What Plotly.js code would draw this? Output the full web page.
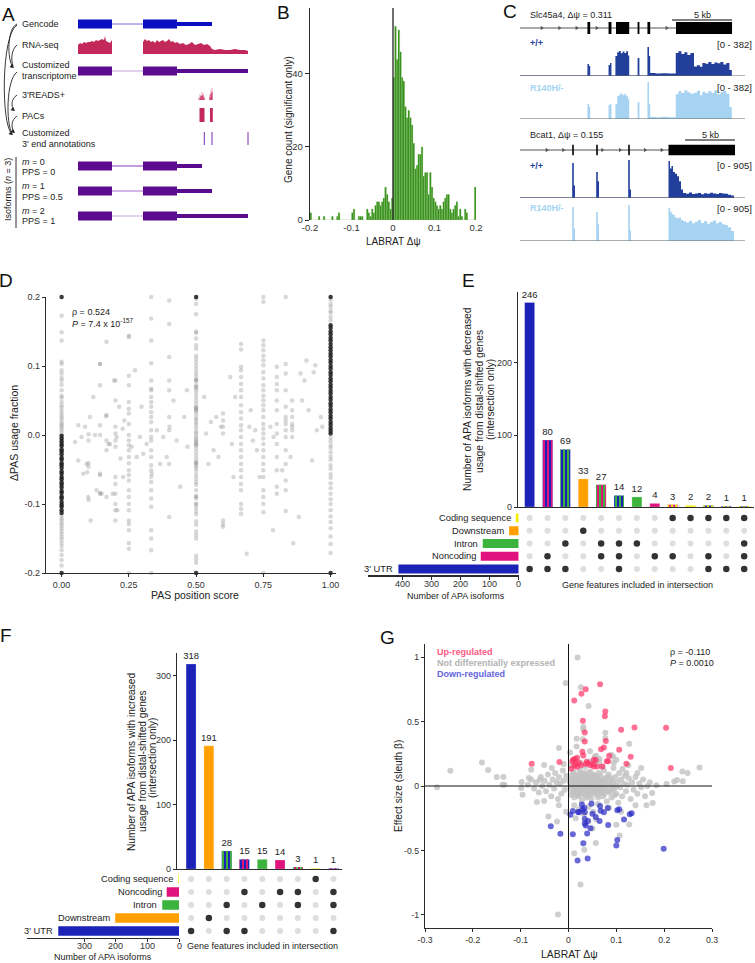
<!DOCTYPE html>
<html><head><meta charset="utf-8">
<script src="https://cdn.plot.ly/plotly-3.0.1.min.js"></script>
<style>body{margin:0;background:#fff}#plot{width:755px;height:963px}</style>
</head><body><div id="plot"></div>
<script>
// ================= DATA =================
// Panel A (schematic, genomic units)
const aExons = [[8,42],[73,107]];
const aGencodeEnd = 142, aTranscriptomeEnd = 178;
const aIsoformEnds = [132,142,178];
const rnaExon1X = [8,10,12,14,16,18,20,22,24,26,28,30,32,34,35,36,38,40,42];
const rnaExon1H = [9,11,10,12,11,12,12,13,12,14,13,14,15,14,18,13,12,11,14];
const rnaExon2X = [73,75,77,79,81,83,85,87,89,91,93,95,97,99,101,103,105,107,110,113,116,119,122,125,128,131,134,137,140,142,145,150,155,160,165,170,175,178];
const rnaExon2H = [12,15,13,14,12,13,11,14,12,13,14,12,13,15,12,13,11,12,10,11,9,10,12,9,10,11,9,10,8,5,4,5,4,4,5,4,4,3];
const reads3X = [129,130,131,132,133,134,140,141,142];
const reads3Light = [3,6,5,8,7,4,6,10,12];
const reads3Dark = [0,2,4,4,5,2,3,6,8];
const aPacs = [[129.5,134.5],[140,142.8]];
const aCustomEnds = [134.3,142,178];

// Panel B histogram (LABRAT delta psi, bins of 0.004 from -0.2)
const histStart = -0.2, histWidth = 0.004;
const histCounts = [2,0,0,0,0,1,0,0,1,0, 0,0,0,1,0,0,1,2,0,0, 0,0,0,0,0,2,3,0,0,1,
  1,1,0,0,3,2,1,3,2,4, 5,5,4,5,6,9,7,5,3,6, 39,53,44,52,46,39,38,31,28,30,
  28,26,21,14,15,18,18,20,12,13, 13,7,13,9,6,5,4,3,4,3, 5,6,7,7,3,2,3,4,5,1, 3,1,0,3,2,0,0,0,0,9];

// Panel C (kb)
const slcExons = [[5.62,5.85],[7.38,7.62],[8.0,9.1],[9.8,9.95],[10.62,10.85],[13.0,17.67]];
const slcChevrons = [1.81,3.28,4.72,6.39,12.22];
const slcPas = [14.75,17.58];
const slcCovX = [0,5.62,5.75,5.85,7.38,7.5,7.62,7.95,8.1,8.25,8.4,8.55,8.7,8.85,9.0,9.1,9.8,9.95,10.62,10.75,10.85,11.3,11.8,12.3,12.98,13.2,13.45,13.7,13.95,14.2,14.5,14.75,15.0,15.2,15.45,15.7,15.95,16.2,16.45,16.7,16.95,17.2,17.45,17.65];
const slcWT = [4,121,100,4,110,131,4,200,240,251,228,246,232,250,205,4,181,4,291,200,30,25,28,24,231,250,222,240,212,232,95,108,92,131,124,140,121,136,127,140,116,130,60,0];
const slcMut = [3,151,120,3,140,151,3,150,230,245,260,238,255,228,200,3,171,3,372,150,20,18,22,17,250,280,262,290,270,255,265,285,240,275,258,282,262,290,248,270,285,255,120,0];
const bcatExons = [[5.22,5.38],[7.62,7.78],[10.82,10.98],[14.85,21.5]];
const bcatChevrons = [2.67,4.33,8.23,10.0,12.5,14.17];
const bcatPas = [16.1,21.4];
const bcatCovX = [0,5.22,5.38,5.5,7.62,7.78,7.9,10.82,10.98,11.1,14.85,15.0,15.15,15.3,15.5,15.7,15.9,16.1,16.3,16.6,16.9,17.2,17.5,17.8,18.1,18.4,18.7,19.0,19.3,19.6,19.9,20.2,20.5,20.8,21.1,21.4];
const bcatWT = [10,833,300,10,619,400,10,905,200,10,880,700,760,619,580,520,400,200,120,100,130,95,110,120,90,115,100,125,105,95,120,110,100,80,60,0];
const bcatMut = [8,810,300,8,690,400,8,857,250,8,785,700,650,620,560,540,560,500,470,440,480,420,460,500,430,470,410,455,490,420,450,400,380,330,240,0];

// Panel D (PAS position score vs delta PAS usage)
const dColX = [0,0.1,0.143,0.167,0.2,0.25,0.333,0.4,0.5,0.6,0.667,0.75,0.8,0.833,0.857,1];
const dY0 = [0.173,0.149,0.137,0.106,0.103,0.094,0.089,0.083,0.079,0.073,0.065,0.057,0.054,0.048,0.043,0.040,0.035,0.031,0.027,0.024,0.020,0.016,0.014,0.011,0.008,0.004,-0.117,-0.121,-0.124,-0.128,-0.131,-0.135,-0.139,-0.143,-0.147,-0.151,-0.156,-0.161,-0.167,-0.174,-0.181,-0.189];
const dY10 = [0.001,-0.008,-0.041,-0.046,-0.094];
const dY143 = [0.103,0.072,0.014,0.0,-0.056,-0.084,-0.085];
const dY167 = [0.135,0.029,-0.008,-0.022,-0.09];
const dY20 = [0.079,0.05,0.012,0.002,-0.008,-0.017,-0.061,-0.071,-0.085,-0.1,-0.109,-0.124];
const dY25 = [0.144,0.142,0.086,0.072,0.048,0.038,0.031,0.016,0.0,-0.008,-0.015,-0.022,-0.032,-0.041,-0.051,-0.058,-0.066,-0.08,-0.09,-0.1,-0.109,-0.124,-0.129,-0.138,-0.157,-0.165,-0.2];
const dY333 = [0.2,0.169,0.137,0.104,0.079,0.067,0.065,0.055,0.048,0.041,0.033,0.026,0.019,0.007,-0.003,-0.008,-0.022,-0.032,-0.044,-0.051,-0.061,-0.068,-0.08,-0.092,-0.104,-0.138,-0.15,-0.167,-0.2];
const dY40 = [0.195,0.161,0.113,0.079,0.065,0.026,0.007,-0.042,-0.119];
const dY50 = [0.197,0.19,0.175,0.15,0.148,0.14,0.13,0.125,0.115,0.11,0.105,0.1,0.095,0.09,0.085,0.08,0.08,0.078,0.072,0.07,0.068,0.065,0.06,0.055,0.05,0.045,0.04,0.04,0.038,0.035,0.035,0.03,0.025,0.022,0.018,0.015,0.01,0.005,0.002,-0.002,-0.005,-0.008,-0.01,-0.012,-0.015,-0.015,-0.02,-0.025,-0.03,-0.035,-0.04,-0.04,-0.042,-0.045,-0.048,-0.052,-0.058,-0.063,-0.068,-0.072,-0.08,-0.088,-0.09,-0.092,-0.1,-0.1,-0.105,-0.11,-0.115,-0.125,-0.13,-0.14,-0.145,-0.15,-0.175,-0.18,-0.185];
const dY60 = [0.031,0.021,0.012,0.002,-0.124,-0.129,-0.133];
const dY667 = [0.132,0.124,0.099,0.094,0.084,0.074,0.065,0.055,0.043,0.033,0.024,0.014,0.007,-0.003,-0.013,-0.022,-0.032,-0.042,-0.051,-0.061,-0.071,-0.08,-0.1,-0.107,-0.114];
const dY75 = [0.2,0.193,0.137,0.13,0.123,0.115,0.108,0.101,0.091,0.082,0.072,0.065,0.057,0.05,0.043,0.036,0.026,0.016,0.009,0.002,-0.005,-0.013,-0.022,-0.032,-0.042,-0.051,-0.061,-0.08,-0.09,-0.1,-0.112,-0.2];
const dY80 = [0.099,0.084,0.074,0.065,0.05,0.036,0.016,0.002,-0.013,-0.032,-0.051,-0.075,-0.085];
const dY833 = [0.2,0.103,0.089,0.065,0.041,0.026,0.021,0.016,0.007,-0.003,-0.022,-0.042,-0.066,-0.08,-0.11];
const dY857 = [0.05,0.036,0.026,0.016,0.012,0.007,-0.003];
const dY100 = [0.196,0.19,0.186,0.18,0.177,0.171,0.166,-0.004,-0.009,-0.015,-0.019,-0.025,-0.031,-0.036,-0.044,-0.049,-0.057,-0.062,-0.07,-0.077,-0.085,-0.093,-0.1,-0.109,-0.118,-0.126,-0.135,-0.147,-0.158,-0.171];
const dDense0 = [0.2,-0.001,-0.005,-0.009,-0.013,-0.016,-0.021,-0.024,-0.028,-0.033,-0.036,-0.041,-0.044,-0.048,-0.053,-0.056,-0.061,-0.064,-0.069,-0.072,-0.076,-0.081,-0.084,-0.089,-0.092,-0.097,-0.101,-0.104,-0.109,-0.113,-0.2];
const dDense50 = [0.2,-0.2];
const dDense100 = [0.2,0.159,0.155,0.15,0.146,0.141,0.137,0.132,0.127,0.123,0.118,0.114,0.109,0.105,0.1,0.096,0.091,0.087,0.082,0.078,0.073,0.069,0.064,0.06,0.055,0.051,0.046,0.042,0.037,0.033,0.028,0.024,0.019,0.015,0.01,0.006,0.002,-0.2];
const dScatX = [0.05,0.062,0.062,0.074,0.08,0.087,0.093,0.095,0.099,0.105,0.108,0.118,0.124,0.13,0.143,0.143,0.149,0.165,0.174,0.18,0.19,0.195,0.205,0.207,0.214,0.219,0.227,0.229,0.233,0.26,0.273,0.279,0.291,0.297,0.304,0.316,0.335,0.354,0.366,0.378,0.391,0.401,0.416,0.428,0.441,0.456,0.466,0.468,0.53,0.537,0.546,0.555,0.565,0.575,0.583,0.592,0.627,0.633,0.639,0.645,0.698,0.703,0.711,0.72,0.726,0.736,0.786,0.776,0.788,0.82,0.851,0.861,0.882,0.888,0.894,0.903,0.91,0.918,0.931,0.937,0.943,0.949,0.964,0.969,0.688];
const dScatY = [-0.01,0.014,-0.037,-0.003,-0.056,0.012,-0.042,-0.054,-0.09,0.026,-0.124,0.055,0,-0.08,0.103,-0.058,-0.085,0.027,-0.013,-0.013,-0.085,0.079,-0.003,-0.109,0.041,-0.034,0.009,-0.061,0.021,-0.017,0.094,-0.032,-0.003,0.041,-0.027,-0.013,-0.056,0.007,-0.042,-0.003,-0.032,0.012,0.05,-0.008,-0.075,0.026,0.065,-0.017,0.055,0.002,-0.042,0.019,-0.022,0.026,-0.032,0.012,0.084,-0.013,-0.061,0.055,0.012,0.036,-0.008,0.007,-0.022,-0.061,-0.138,0.012,-0.003,-0.051,-0.032,-0.157,-0.119,0.089,0.05,0.079,0.108,0.036,-0.037,0.091,0.101,0.007,0.026,0.012,-0.172];

// Panel E (decreased usage)
const eLabels = [246,80,69,33,27,14,12,4,3,2,2,1,1];
const eBarHeights = [284,93,80,39,31,16,14,5,3.3,2.3,2.3,1.2,1.2];
const eSets = [["3' UTR"],["Noncoding","3' UTR"],["Intron","3' UTR"],["Downstream"],["Intron","Noncoding"],["Intron","Noncoding","3' UTR"],["Intron"],["Noncoding"],["Coding sequence","Noncoding"],["Coding sequence"],["Coding sequence","Noncoding","3' UTR"],["Coding sequence","3' UTR"],["Coding sequence","Intron","Noncoding","3' UTR"]];
const eRows = ["3' UTR","Noncoding","Intron","Downstream","Coding sequence"];
const eSetSize = [415,131,124,33,10];
const eSizeTicks = [400,300,200,100,0];

// Panel F (increased usage)
const fLabels = [318,191,28,15,15,14,3,1,1];
const fBarHeights = [318,191,28,15,15,14,3,1,1];
const fSets = [["3' UTR"],["Downstream"],["Intron","3' UTR"],["Noncoding","3' UTR"],["Intron"],["Noncoding"],["Noncoding","Intron"],["Coding sequence"],["Noncoding","Intron","3' UTR"]];
const fRows = ["3' UTR","Downstream","Intron","Noncoding","Coding sequence"];
const fSetSize = [382,202,53,39,2];
const fSizeTicks = [300,200,100,0];

// Panel G (LABRAT dpsi vs sleuth beta)
const gUp = [[-0.077,0.173],[-0.019,0.186],[0.012,0.662],[0.027,0.716],[0.036,0.75],[0.066,0.789],[0.077,0.577],[0.076,0.541],[0.03,0.505],[0.034,0.415],[0.034,0.345],[0.11,0.436],[0.138,0.454],[0.204,0.451],[0.214,0.139],[0.078,0.348],[0.074,0.299],[0.068,0.284],[0.106,0.281],[0.029,0.265],[0.085,0.235],[0.13,0.227],[0.121,0.173],[0.08,0.191],[0.083,0.191],[0.008,0.191],[0.01,0.204],[0.013,0.209],[0.018,0.219],[0.015,0.173],[0.012,0.157],[0.006,0.134],[0.022,0.178],[0.038,0.188],[0.031,0.237],[0.041,0.178],[0.053,0.204],[0.057,0.201],[0.036,0.17],[0.046,0.16],[0.053,0.152],[0.06,0.152],[0.071,0.152],[0.051,0.17],[0.026,0.16],[0.018,0.15]];
const gDown = [[-0.037,-0.312],[-0.017,-0.371],[0.004,-0.222],[0.009,-0.193],[0.009,-0.374],[0.02,-0.201],[0.022,-0.204],[0.028,-0.144],[0.029,-0.183],[0.033,-0.17],[0.034,-0.204],[0.034,-0.255],[0.034,-0.291],[0.036,-0.307],[0.041,-0.271],[0.046,-0.327],[0.039,-0.368],[0.031,-0.443],[0.019,-0.577],[0.04,-0.562],[0.048,-0.137],[0.05,-0.216],[0.057,-0.24],[0.065,-0.271],[0.066,-0.155],[0.067,-0.191],[0.074,-0.204],[0.082,-0.17],[0.083,-0.302],[0.102,-0.188],[0.106,-0.18],[0.116,-0.26],[0.128,-0.219],[0.132,-0.211],[0.102,-0.418],[0.1,-0.461],[0.199,-0.487]];
const gNot = [[0.019,0.997],[-0.006,0.799],[0.026,0.765],[0.042,0.621],[0.031,0.459],[0.031,0.438],[0.077,0.412],[0.077,0.371],[0.127,0.327],[-0.02,0.294],[0.017,0.307],[-0.181,0.183],[-0.247,0.119],[-0.168,0.124],[-0.275,-0.01],[0.274,0.144],[0.238,0.113],[0.249,0.1],[0.221,0.034],[0.227,0.046],[0.175,-0.054],[0.176,-0.131],[0.163,-0.149],[0.127,-0.299],[0.107,-0.384],[0.057,-0.441],[0.033,-0.495],[0.012,-0.521],[0.025,-0.763],[-0.022,-0.997],[-0.042,-0.237],[-0.024,-0.276],[-0.066,-0.124],[-0.051,-0.116],[-0.096,-0.067],[-0.099,-0.015],[-0.098,0.031],[-0.134,0.01],[-0.138,0.01],[-0.15,0.07],[-0.136,0.07],[-0.078,0.126],[-0.051,0.162],[-0.083,0.062],[-0.06,0.049],[0.239,0.037],[0.205,0.015],[0.184,0.005],[0.152,0.139],[0.144,0.1],[0.121,0.1],[0.113,0.131],[0.1,0.204],[0.093,0.229],[0.058,0.235],[0.055,0.229],[0.064,0.186],[0.017,0.366],[0.03,0.363],
 [0.002,0.05],[0.004,-0.02],[0.005,0.08],[0.006,-0.07],[0.008,0.02],[0.009,-0.04],[0.010,0.11],[0.011,0.0],[0.012,-0.09],[0.013,0.06],[0.014,-0.01],[0.015,0.03],[0.016,-0.06],[0.017,0.09],[0.018,-0.03],[0.019,0.01],[0.02,0.05],[0.021,-0.08],[0.022,0.07],[0.023,-0.02],[0.024,0.12],[0.025,0.0],[0.026,-0.05],[0.027,0.04],[0.028,-0.11],[0.029,0.02],[0.03,0.08],[0.031,-0.03],[0.032,0.06],[0.033,-0.07],[0.034,0.01],[0.035,0.1],[0.036,-0.01],[0.037,0.04],[0.038,-0.09],[0.039,0.03],[0.04,-0.04],[0.041,0.07],[0.042,0.0],[0.043,-0.06],[0.044,0.05],[0.045,0.11],[0.046,-0.02],[0.047,0.02],[0.048,-0.1],[0.049,0.06],[0.05,-0.03],[0.052,0.09],[0.053,0.01],[0.054,-0.05],[0.055,0.04],[0.057,-0.01],[0.058,0.07],[0.06,-0.07],[0.061,0.02],[0.063,0.1],[0.064,-0.04],[0.066,0.05],[0.068,-0.02],[0.07,0.03],
 [0.003,0.03],[0.006,0.0],[0.007,0.06],[0.009,-0.05],[0.011,0.09],[0.013,-0.02],[0.014,0.04],[0.016,0.07],[0.018,0.0],[0.019,-0.07],[0.021,0.03],[0.022,-0.04],[0.024,0.08],[0.025,0.05],[0.026,-0.01],[0.027,0.1],[0.028,0.02],[0.029,-0.06],[0.031,0.05],[0.032,-0.02],[0.033,0.09],[0.034,0.0],[0.036,0.06],[0.037,-0.05],[0.038,0.02],[0.039,0.08],[0.041,-0.01],[0.042,0.04],[0.043,-0.08],[0.044,0.1],[0.046,0.03],[0.047,-0.05],[0.048,0.07],[0.05,0.0],[0.051,0.05],[0.052,-0.06],[0.054,0.08],[0.055,-0.02],[0.056,0.03],[0.058,-0.04],[0.059,0.06],[0.061,0.0],[0.062,-0.09],[0.064,0.04],[0.065,-0.01],[0.067,0.08],[0.069,-0.05],[0.071,0.01],[0.073,0.05],[0.075,-0.06],[0.077,0.03],[0.079,-0.02],[0.081,0.07],[0.083,-0.04],[0.087,0.01],[0.089,0.06],[0.091,-0.03],[0.093,0.03],[0.097,-0.07],[0.099,0.0],
 [-0.005,0.08],[-0.008,-0.03],[-0.01,0.04],[-0.012,0.12],[-0.015,-0.06],[-0.018,0.02],[-0.02,0.07],[-0.022,-0.1],[-0.025,0.03],[-0.028,0.1],[-0.03,-0.02],[-0.033,0.05],[-0.036,-0.08],[-0.04,0.01],[-0.043,0.09],[-0.047,-0.04],[-0.05,0.04],[-0.055,0.0],[-0.058,0.07],[-0.062,-0.05],[-0.068,0.03],[-0.072,-0.02],[-0.078,0.05],[-0.085,0.01],
 [0.072,-0.08],[0.074,0.12],[0.076,-0.03],[0.078,0.06],[0.08,-0.12],[0.082,0.02],[0.084,0.09],[0.086,-0.05],[0.088,0.04],[0.09,-0.09],[0.092,0.0],[0.094,0.14],[0.096,-0.02],[0.098,0.07],[0.1,-0.06],[0.102,0.03],[0.104,-0.13],[0.106,0.1],[0.108,-0.01],[0.11,0.05],[0.112,-0.08],[0.115,0.02],[0.118,0.08],[0.12,-0.04],[0.123,0.01],[0.126,0.06],[0.13,-0.1],[0.133,0.03],[0.136,-0.03],[0.14,0.07],[0.144,-0.06],[0.148,0.02],[0.152,-0.01],[0.156,0.05],[0.16,-0.08],[0.165,0.0],[0.17,0.03],
 [0.005,0.16],[0.015,0.2],[0.025,0.18],[0.035,0.15],[0.045,0.19],[0.055,0.17],[0.065,0.21],[0.012,-0.15],[0.022,-0.18],[0.032,-0.22],[0.042,-0.16],[0.052,-0.2],[0.062,-0.14],[0.015,-0.25],[0.058,-0.26],[-0.01,0.17],[-0.02,-0.15],[-0.035,0.14],[0.07,0.15],[0.085,-0.17],[0.095,0.18],[0.11,-0.2],[0.125,0.16],[0.14,-0.15],[0.003,0.26],[0.045,0.27],[0.09,0.24],[-0.005,-0.2],[0.1,-0.3],[0.05,-0.33]];

// ================= STYLE / LAYOUT HELPERS =================
const W=755,H=963;
const FONT='Arial, "Liberation Sans", Helvetica, sans-serif';
const TXT='#222';
const X=p=>p/W, Y=p=>1-p/H;
const dX=(a,b)=>[X(a),X(b)], dY=(top,bot)=>[Y(bot),Y(top)];
const featColor={"3' UTR":'#1b22b8',"Noncoding":'#e0137e',"Intron":'#3cb33c',"Downstream":'#ffa000',"Coding sequence":'#f4ee00'};
const traces=[], shapes=[], annotations=[];

function txt(x,y,text,o={}){annotations.push({xref:'paper',yref:'paper',x:X(x),y:Y(y),text,showarrow:false,
  xanchor:o.anchor||'left',yanchor:'middle',textangle:o.angle||0,font:{family:FONT,size:o.size||9,color:o.color||TXT}});}
function rect(xref,yref,x0,x1,y0,y1,color){shapes.push({type:'rect',xref,yref,x0,x1,y0,y1,fillcolor:color,line:{width:0},layer:'above'});}
function seg(xref,yref,x0,y0,x1,y1,color,w){shapes.push({type:'line',xref,yref,x0,y0,x1,y1,line:{color,width:w||1},layer:'above'});}
function pathPx(str,color){shapes.push({type:'path',xref:'paper',yref:'paper',
  path:str.replace(/(-?\d+\.?\d*),(-?\d+\.?\d*)/g,(m,a,b)=>X(+a).toFixed(5)+','+Y(+b).toFixed(5)),line:{color,width:0.9}});}
function arrowHead(x,y,ax,ay){annotations.push({xref:'paper',yref:'paper',x:X(x),y:Y(y),ax,ay,text:'',showarrow:true,arrowhead:2,arrowsize:0.9,arrowwidth:0.9,arrowcolor:'#222'});}
function hid(domain,range,anchor){return {domain,range,anchor,showgrid:false,zeroline:false,showline:false,ticks:'',showticklabels:false,fixedrange:true};}
function vis(domain,range,anchor,fs,extra){return Object.assign(hid(domain,range,anchor),{showline:true,linecolor:'#2b2b2b',linewidth:1.2,
  ticks:'outside',ticklen:3,tickwidth:1,tickcolor:'#2b2b2b',showticklabels:true,tickfont:{family:FONT,size:fs,color:'#333'}},extra||{});}

// ================= PANEL A =================
function geneA(yc,end,ec,ic){
  rect('x','y',aExons[0][0],aExons[0][1],yc-4.5,yc+4.5,ec);
  seg('x','y',aExons[0][1],yc,aExons[1][0],yc,ic,1);
  rect('x','y',aExons[1][0],aExons[1][1],yc-4.5,yc+4.5,ec);
  rect('x','y',aExons[1][1],end,yc-2,yc+2,ec);
}
geneA(24,aGencodeEnd,'#0b0fc2','#7070dc');
geneA(71,aTranscriptomeEnd,'#5b0b8e','#c7a3e0');
const isoIntron=['#8c3cc0','#a86cd0','#c9a8e2'];
aIsoformEnds.forEach((e,i)=>geneA(166+25*i,e,'#5b0b8e',isoIntron[i]));
function areaA(xs,hs,base,color){
  traces.push({type:'scatter',mode:'lines',x:[xs[0],...xs,xs[xs.length-1]],y:[base,...hs.map(h=>base-h),base],
    fill:'toself',fillcolor:color,line:{width:0,color},xaxis:'x',yaxis:'y',hoverinfo:'skip'});
}
areaA(rnaExon1X,rnaExon1H,54,'#c3285b');
areaA(rnaExon2X,rnaExon2H,54,'#c3285b');
traces.push({type:'bar',x:reads3X,y:reads3Light.map(h=>-h),base:100,width:1,marker:{color:'#e9a3bb'},xaxis:'x',yaxis:'y',hoverinfo:'skip'});
traces.push({type:'bar',x:reads3X,y:reads3Dark.map(h=>-h),base:100,width:1,marker:{color:'#c3285b'},xaxis:'x',yaxis:'y',hoverinfo:'skip'});
aPacs.forEach(p=>rect('x','y',p[0],p[1],108,122,'#c3285b'));
aCustomEnds.forEach(c=>seg('x','y',c,132,c,145,'#7b2ab5',1));
txt(20,24,'Gencode'); txt(20,45,'RNA-seq'); txt(20,65,'Customized'); txt(20,76,'transcriptome');
txt(20,95,"3'READS+"); txt(20,116,'PACs'); txt(20,133,'Customized'); txt(20,144,"3' end annotations");
txt(20,162,'<i>m</i> = 0'); txt(20,172,'PPS = 0'); txt(20,186,'<i>m</i> = 1'); txt(20,197,'PPS = 0.5');
txt(20,211,'<i>m</i> = 2'); txt(20,221,'PPS = 1');
txt(8,190,'Isoforms (<i>n</i> = 3)',{angle:-90,anchor:'center'});
shapes.push({type:'line',xref:'paper',yref:'paper',x0:X(16),x1:X(16),y0:Y(157),y1:Y(228),line:{color:'#333',width:1}});
pathPx('M17,24 C7,28 7,60 13,67','#222');
pathPx('M17,25 C1,35 1,125 12,134','#222');
pathPx('M17,45 C11,50 11,60 13,66','#222');
pathPx('M17,72 C6,80 6,124 12,133','#222');
pathPx('M17,95 C11,99 11,106 14,110','#222');
pathPx('M17,116 C11,120 11,127 14,132','#222');
[[14,68],[13,135],[15,111],[15,133]].forEach(p=>arrowHead(p[0],p[1],-4,-3));

// ================= PANEL B =================
const histCenters = histCounts.map((_,i)=>histStart+histWidth*(i+0.5));
traces.push({type:'bar',x:histCenters,y:histCounts,width:histWidth,marker:{color:'#2e8a12',line:{color:'#9dd183',width:0.3}},xaxis:'x2',yaxis:'y2',hoverinfo:'skip'});
seg('x2','y2',0,0,0,58,'#333',1.4);
txt(288,120,'Gene count (significant only)',{angle:-90,anchor:'center',size:10});
txt(393,241,'LABRAT Δψ',{anchor:'center',size:10});

// ================= PANEL C =================
const cov=(xa,ya,xs,ys,color)=>traces.push({type:'scatter',mode:'lines',x:xs,y:ys,line:{shape:'hv',width:0,color},fill:'tozeroy',fillcolor:color,xaxis:xa,yaxis:ya,hoverinfo:'skip'});
function geneC(xa,ya,exons,chev,h){
  seg(xa,ya,0,0,exons[exons.length-1][1],0,'#555',1);
  exons.forEach(e=>rect(xa,ya,e[0],e[1],-h,h,'#000'));
  traces.push({type:'scatter',mode:'markers',x:chev,y:chev.map(()=>0),marker:{symbol:'triangle-right',size:4,color:'#555'},xaxis:xa,yaxis:ya,hoverinfo:'skip'});
}
geneC('x3','y3',slcExons,slcChevrons,0.75);
geneC('x4','y6',bcatExons,bcatChevrons,0.65);
const WT='#223f9c', MUT='#a6d3f2';
cov('x3','y4',slcCovX,slcWT,WT); cov('x3','y5',slcCovX,slcMut,MUT);
cov('x4','y7',bcatCovX,bcatWT,WT); cov('x4','y8',bcatCovX,bcatMut,MUT);
[['x3','y4',382,slcPas],['x3','y5',382,slcPas],['x4','y7',905,bcatPas],['x4','y8',905,bcatPas]].forEach(t=>{
  shapes.push({type:'line',xref:t[0]+' domain',yref:t[1],x0:0,x1:1,y0:0,y1:0,line:{color:'#666',width:1}});
  traces.push({type:'scatter',mode:'markers',x:t[3],y:t[3].map(()=>-t[2]*0.11),cliponaxis:false,marker:{symbol:'triangle-up',size:5,color:'#000'},xaxis:t[0],yaxis:t[1],hoverinfo:'skip'});
});
shapes.push({type:'line',xref:'x3',yref:'paper',x0:12.67,x1:17.67,y0:Y(20),y1:Y(20),line:{color:'#000',width:1}});
shapes.push({type:'line',xref:'x4',yref:'paper',x0:16.5,x1:21.5,y0:Y(140),y1:Y(140),line:{color:'#000',width:1}});
annotations.push({xref:'x3',yref:'paper',x:15.17,y:Y(14.5),xanchor:'center',yanchor:'middle',text:'5 kb',showarrow:false,font:{family:FONT,size:9,color:TXT}});
annotations.push({xref:'x4',yref:'paper',x:19,y:Y(134.5),xanchor:'center',yanchor:'middle',text:'5 kb',showarrow:false,font:{family:FONT,size:9,color:TXT}});
txt(528,15,'Slc45a4, Δψ = 0.311'); txt(528,135,'Bcat1, Δψ = 0.155');
txt(528,43,'<b>+/+</b>',{color:WT}); txt(528,88,'<b>R140H/-</b>',{color:MUT});
txt(528,166,'<b>+/+</b>',{color:WT}); txt(528,208,'<b>R140H/-</b>',{color:MUT});
txt(754,44,'[0 - 382]',{anchor:'right',size:9.5}); txt(754,88,'[0 - 382]',{anchor:'right',size:9.5});
txt(754,166,'[0 - 905]',{anchor:'right',size:9.5}); txt(754,208,'[0 - 905]',{anchor:'right',size:9.5});

// ================= PANEL D =================
const dCols=[dY0,dY10,dY143,dY167,dY20,dY25,dY333,dY40,dY50,dY60,dY667,dY75,dY80,dY833,dY857,dY100];
const dLx=[], dLy=[];
dCols.forEach((ys,i)=>ys.forEach(y=>{dLx.push(dColX[i]);dLy.push(y);}));
dScatX.forEach((x,i)=>{dLx.push(x);dLy.push(dScatY[i]);});
traces.push({type:'scatter',mode:'markers',x:dLx,y:dLy,cliponaxis:false,marker:{size:4.5,color:'#8a8a8a',opacity:0.33},xaxis:'x5',yaxis:'y9',hoverinfo:'skip'});
const dDx=[...dDense0.map(()=>0),...dDense50.map(()=>0.5),...dDense100.map(()=>1)];
const dDy=[...dDense0,...dDense50,...dDense100];
traces.push({type:'scatter',mode:'markers',x:dDx,y:dDy,cliponaxis:false,marker:{size:4.5,color:'#1a1a1a',opacity:0.85},xaxis:'x5',yaxis:'y9',hoverinfo:'skip'});
txt(70,312,'ρ = 0.524'); txt(70,323,'<i>P</i> = 7.4 x 10<sup>-157</sup>');
txt(14,433,'ΔPAS usage fraction',{angle:-90,anchor:'center',size:10.5});
txt(195,595,'PAS position score',{anchor:'center',size:10.5});

// ================= PANELS E, F (UpSet) =================
function upsetBars(h,labels,sets,xa,ya){
  const idx=h.map((_,i)=>i);
  const bg=sets.map(s=>featColor[s[s.length-1]]);
  traces.push({type:'bar',x:idx,y:h,text:labels.map(String),textposition:'outside',constraintext:'none',cliponaxis:false,
    textfont:{family:FONT,size:9.5,color:'#222'},width:0.56,marker:{color:bg,line:{color:'rgba(255,255,255,0.5)',width:0.5}},
    xaxis:xa,yaxis:ya,hoverinfo:'skip'});
  const fgs=[...new Set(sets.filter(s=>s.length>1).map(s=>s[0]))];
  fgs.forEach(f=>{
    const ids=idx.filter(i=>sets[i].length>1&&sets[i][0]===f);
    traces.push({type:'bar',x:ids,y:ids.map(i=>h[i]),width:0.56,cliponaxis:false,
      marker:{color:featColor[f],line:{width:0},pattern:{shape:'|',size:4,solidity:0.5}},xaxis:xa,yaxis:ya,hoverinfo:'skip'});
  });
}
function upsetMatrix(sets,rows,xa,ya){
  const ix=[],iy=[],ax=[],ay=[];
  sets.forEach((s,i)=>rows.forEach((r,j)=>{if(s.includes(r)){ax.push(i);ay.push(j);}else{ix.push(i);iy.push(j);}}));
  traces.push({type:'scatter',mode:'markers',x:ix,y:iy,marker:{size:6,color:'#dedede'},xaxis:xa,yaxis:ya,hoverinfo:'skip'});
  traces.push({type:'scatter',mode:'markers',x:ax,y:ay,marker:{size:6.5,color:'#333'},xaxis:xa,yaxis:ya,hoverinfo:'skip'});
}
function setBars(sizes,rows,xa,ya,ticks,tickY){
  traces.push({type:'bar',orientation:'h',x:sizes,y:rows.map((_,j)=>j),width:0.72,marker:{color:rows.map(r=>featColor[r])},xaxis:xa,yaxis:ya,hoverinfo:'skip'});
  rows.forEach((r,j)=>annotations.push({xref:xa,yref:ya,x:sizes[j],y:j,xanchor:'right',yanchor:'middle',xshift:-3,text:r,showarrow:false,font:{family:FONT,size:9.3,color:TXT}}));
  ticks.forEach(v=>annotations.push({xref:xa,yref:'paper',x:v,y:Y(tickY),xanchor:'center',yanchor:'middle',text:String(v),showarrow:false,font:{family:FONT,size:9,color:'#333'}}));
}
upsetBars(eBarHeights,eLabels,eSets,'x6','y10'); upsetMatrix(eSets,eRows,'x6','y11'); setBars(eSetSize,eRows,'x7','y11',eSizeTicks,584);
upsetBars(fBarHeights,fLabels,fSets,'x8','y12'); upsetMatrix(fSets,fRows,'x8','y13'); setBars(fSetSize,fRows,'x9','y13',fSizeTicks,946);
txt(468,399,'Number of APA isoforms with decreased',{angle:-90,anchor:'center',size:10.3});
txt(479,402,'usage from distal-shifted genes',{angle:-90,anchor:'center',size:10.3});
txt(490,400,'(intersection only)',{angle:-90,anchor:'center',size:10.3});
txt(456,596,'Number of APA isoforms',{anchor:'center'});
txt(637,585,'Gene features included in intersection',{anchor:'center'});
txt(131,762,'Number of APA isoforms with increased',{angle:-90,anchor:'center',size:10.2});
txt(142,761,'usage from distal-shifted genes',{angle:-90,anchor:'center',size:10.2});
txt(152,758,'(intersection only)',{angle:-90,anchor:'center',size:10.2});
txt(103,957,'Number of APA isoforms',{anchor:'center'});
txt(262,946,'Gene features included in intersection',{anchor:'center'});

// ================= PANEL G =================
[[gNot,'#c2c2c2',0.8],[gUp,'#ff3366',0.7],[gDown,'#2a2ac4',0.7]].forEach(g=>traces.push({type:'scatter',mode:'markers',
  x:g[0].map(p=>p[0]),y:g[0].map(p=>p[1]),marker:{size:6,color:g[1],opacity:g[2]},xaxis:'x10',yaxis:'y14',hoverinfo:'skip'}));
seg('x10','y14',-0.3,0,0.3,0,'#111',1); seg('x10','y14',0,-1.101,0,1.101,'#111',1);
txt(435,652,'<b>Up-regulated</b>',{color:'#ff5a85'});
txt(435,663,'<b>Not differentially expressed</b>',{color:'#b3b3b3'});
txt(435,674,'<b>Down-regulated</b>',{color:'#6464de'});
txt(668,652,'ρ = -0.110'); txt(668,663,'<i>P</i> = 0.0010');
txt(398,786,'Effect size (sleuth β)',{angle:-90,anchor:'center',size:10.2});
txt(569,954,'LABRAT Δψ',{anchor:'center',size:10.4});

// panel letters
[['A',8,14],['B',283,13],['C',510,11],['D',6,280],['E',468,280],['F',6,635],['G',387,637]].forEach(l=>txt(l[1],l[2],l[0],{anchor:'center',size:19,color:'#111'}));

// ================= LAYOUT =================
const xb2=hid(dX(310,476),[-0.2,0.2],'y2');
Object.assign(xb2,{showticklabels:true,tickvals:[-0.2,-0.1,0,0.1,0.2],ticktext:['-0.2','-0.1','0','0.1','0.2'],tickfont:{family:FONT,size:9.5,color:'#333'}});
const layout={width:W,height:H,margin:{l:0,r:0,t:0,b:0},paper_bgcolor:'#fff',plot_bgcolor:'rgba(0,0,0,0)',showlegend:false,barmode:'overlay',
  font:{family:FONT,size:9,color:TXT},shapes,annotations,
  xaxis:hid(dX(70,250),[0,180],'y'), yaxis:hid(dY(10,230),[230,10],'x'),
  xaxis2:xb2,
  yaxis2:vis(dY(8,220),[0,58],'x2',9.5,{tickvals:[0,20,40],ticklen:4}),
  xaxis3:hid(dX(520,745),[0,18.75],'y3'), yaxis3:hid(dY(20,36),[-1,1],'x3'),
  yaxis4:hid(dY(38,76),[0,382],'x3'), yaxis5:hid(dY(81,119),[0,382],'x3'),
  xaxis4:hid(dX(520,745),[0,22.5],'y6'), yaxis6:hid(dY(142,158),[-1,1],'x4'),
  yaxis7:hid(dY(160,198),[0,905],'x4'), yaxis8:hid(dY(203,241),[0,905],'x4'),
  xaxis5:vis(dX(46,336),[-0.058,1.02],'y9',9,{tickvals:[0,0.25,0.5,0.75,1],ticktext:['0.00','0.25','0.50','0.75','1.00']}),
  yaxis9:vis(dY(297,573),[-0.2,0.2],'x5',9,{tickvals:[-0.2,-0.1,0,0.1,0.2],ticktext:['-0.2','-0.1','0.0','0.1','0.2']}),
  xaxis6:Object.assign(hid(dX(518,754),[-0.65,12.55],'y10'),{showline:true,linecolor:'#2b2b2b',linewidth:1.2}),
  yaxis10:vis(dY(292,507),[0,298.6],'x6',9,{tickvals:[0,100,200]}),
  yaxis11:hid(dY(511.6,575.4),[-0.5,4.5],'x6'),
  xaxis7:vis(dX(368,518.7),[520,0],'y11',9,{tickvals:eSizeTicks,showticklabels:false}),
  xaxis8:Object.assign(hid(dX(177,342),[-0.79,8.48],'y12'),{showline:true,linecolor:'#2b2b2b',linewidth:1.2}),
  yaxis12:vis(dY(653,869),[0,335],'x8',9,{tickvals:[0,100,200,300]}),
  yaxis13:hid(dY(872.5,937.5),[-0.5,4.5],'x8'),
  xaxis9:vis(dX(27,179),[481,0],'y13',9,{tickvals:fSizeTicks,showticklabels:false}),
  xaxis10:vis(dX(425,712),[-0.3,0.3],'y14',8.7,{tickvals:[-0.3,-0.2,-0.1,0,0.1,0.2,0.3],ticktext:['-0.3','-0.2','-0.1','0','0.1','0.2','0.3']}),
  yaxis14:vis(dY(644,928),[-1.101,1.101],'x10',8.7,{tickvals:[-1,-0.5,0,0.5,1],ticktext:['-1','-0.5','0','0.5','1']})
};
Plotly.newPlot('plot',traces,layout,{staticPlot:true,displayModeBar:false});
</script></body></html>
